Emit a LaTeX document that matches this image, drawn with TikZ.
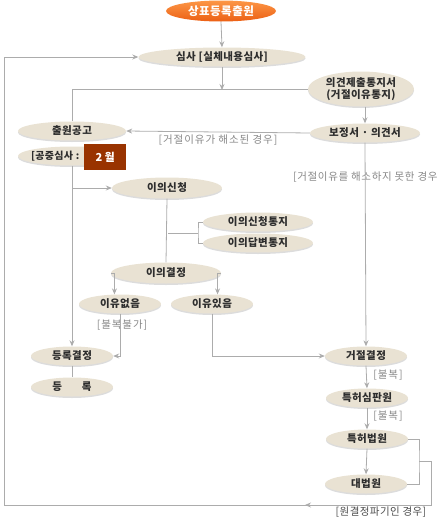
\documentclass[tikz,border=0pt]{standalone}
\usepackage{fontspec}
\setmainfont{Noto Sans CJK KR}
\usetikzlibrary{shapes.geometric,arrows.meta,shadows}
\definecolor{nodefill}{RGB}{233,226,211}
\definecolor{nodetext}{RGB}{45,45,45}
\definecolor{linegray}{RGB}{172,172,172}
\definecolor{labgray}{RGB}{135,135,135}
\definecolor{boxred}{RGB}{153,51,0}
\definecolor{orangeA}{RGB}{252,150,70}
\definecolor{orangeB}{RGB}{236,96,20}
\begin{document}
\begin{tikzpicture}[x=1pt,y=-1pt,
  ell/.style={ellipse, fill=nodefill, inner sep=0pt, minimum height=19pt,
    text=nodetext, font=\fontsize{10.5}{12}\selectfont\bfseries\addfontfeatures{LetterSpace=4},
    drop shadow={shadow xshift=0pt,shadow yshift=-1.5pt,fill=black!30,opacity=0.45}},
  lab/.style={text=labgray, font=\fontsize{10.5}{12}\selectfont\addfontfeatures{LetterSpace=9}, inner sep=0pt},
  ln/.style={draw=linegray, line width=0.8pt},
  arr/.style={ln, -{Stealth[length=6pt,width=5pt]}}]
\useasboundingbox (0,0) rectangle (440,520);

% nodes
\node[ellipse, inner sep=0pt, minimum width=110pt, minimum height=21pt,
  top color=orangeA, bottom color=orangeB, draw=none, text=white,
  font=\fontsize{11.5}{13}\selectfont\bfseries\addfontfeatures{LetterSpace=4}] (top) at (221,11) {상표등록출원};
\node[ell, minimum width=167pt] (sim) at (222,57) {심사 [실체내용심사]};
\node[ell, minimum width=106pt, minimum height=35pt, align=center,
  font=\fontsize{10.5}{12.5}\selectfont\bfseries\addfontfeatures{LetterSpace=4}] (uigyeon) at (361,89) {의견제출통지서\\(거절이유통지)};
\node[ell, minimum width=108pt] (gongo) at (72,131) {출원공고};
\node[ell, minimum width=110pt] (bojeong) at (365,133) {보정서 · 의견서};
\node[ell, minimum width=108pt] (gongjung) at (72,156) {};
\node[anchor=west, inner sep=0pt, text=nodetext,
  font=\fontsize{10}{11}\selectfont\bfseries\addfontfeatures{LetterSpace=3}] (gjtext) at (31,156) {[공중심사 :};
\node[fill=boxred, minimum width=42pt, minimum height=26pt, inner sep=0pt,
  text=white, font=\fontsize{11}{12}\selectfont\bfseries, anchor=west] (month) at (84,157) {2 월\hspace{10pt}};
\node[ell, minimum width=110pt, minimum height=21pt] (isin) at (167,188) {이의신청};
\node[ell, minimum width=110pt] (tongji1) at (258,222) {이의신청통지};
\node[ell, minimum width=110pt] (tongji2) at (258,243) {이의답변통지};
\node[ell, minimum width=110pt, minimum height=21pt] (igyeol) at (166,273) {이의결정};
\node[ell, minimum width=82pt] (eopseum) at (120,304) {이유없음};
\node[ell, minimum width=82pt] (itseum) at (212,304) {이유있음};
\node[ell, minimum width=82pt] (dgyeol) at (72,356) {등록결정};
\node[ell, minimum width=82pt] (dreg) at (72,387) {등\hspace{20pt}록};
\node[ell, minimum width=82pt] (geojeol) at (366,356) {거절결정};
\node[ell, minimum width=82pt] (simpan) at (367,398) {특허심판원};
\node[ell, minimum width=82pt] (beopwon) at (367,439) {특허법원};
\node[ell, minimum width=82pt] (daebeop) at (366,484) {대법원};

% labels
\node[lab] (l1) at (218,140) {[거절이유가 해소된 경우]};
\node[lab, anchor=west, font=\fontsize{10.5}{12}\selectfont\addfontfeatures{LetterSpace=6}] (l2) at (293,177) {[거절이유를 해소하지 못한 경우};
\node[lab] (l3) at (122,325) {[불복불가]};
\node[lab] (l4) at (388,375) {[불복]};
\node[lab] (l5) at (388,416) {[불복]};
\node[lab, text=nodetext!85, font=\fontsize{10.5}{12}\selectfont\addfontfeatures{LetterSpace=4}] (l6) at (381,512) {[원결정파기인 경우]};

% coordinates
\coordinate (j1) at (222,90);
\coordinate (bx) at (419,461);
\coordinate (c1) at (431,461);
\coordinate (c2) at (431,505);
\coordinate (cm) at (305,505);
\coordinate (c3) at (4,505);
\coordinate (c4) at (4,57);
\coordinate (jv) at (72,188);
\coordinate (jb) at (168,233);
\coordinate (jc) at (198,233);

% connectors
\draw[arr] (top.south) -- (sim.north);
\draw[arr] (sim.south) -- (j1);
\draw[ln] (gongo.north) |- (uigyeon.west);
\draw[arr] (uigyeon.south -| bojeong.north) -- (bojeong.north);
\draw[arr] (bojeong.west) -- (gongo.east);
\draw[arr] (bojeong.south) -- (geojeol.north);
\draw[arr] (gongjung.south) -- (dgyeol.north);
\draw[arr] (jv) -- (isin.west);
\draw[ln] (isin.south) -- (igyeol.north);
\draw[ln] (jb) -- (jc);
\draw[ln] (tongji1.west) -| (jc) |- (tongji2.west);
\draw[arr] (igyeol.west) -| (eopseum.120);
\draw[arr] (igyeol.east) -| (itseum.60);
\draw[arr] (eopseum.-85) |- (dgyeol.east);
\draw[arr] (itseum.south) |- (geojeol.west);
\draw[ln] (dgyeol.south) -- (dreg.north);
\draw[arr] (geojeol.south) -- (simpan.north);
\draw[arr] (simpan.south) -- (beopwon.north);
\draw[arr] (beopwon.south) -- (daebeop.north);
\draw[ln] (beopwon.east) -| (bx) |- (daebeop.east);
\draw[ln] (bx) -- (c1) -- (c2) -- (c3) -- (c4);
\draw[arr] (c2) -- (cm);
\draw[arr] (c4) -- (sim.west);
\end{tikzpicture}
\end{document}
